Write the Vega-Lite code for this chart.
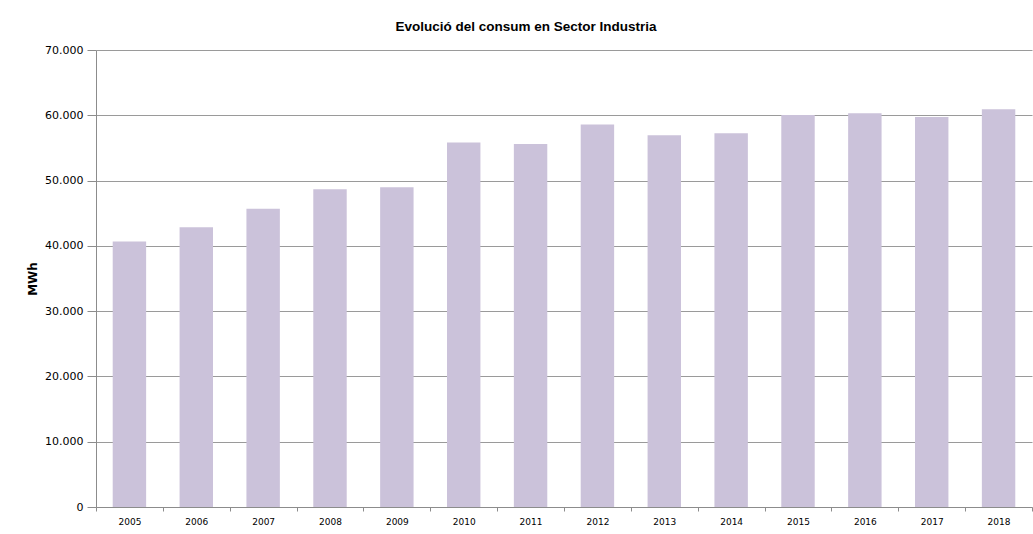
{
  "$schema": "https://vega.github.io/schema/vega-lite/v6.json",
  "autosize": {"type": "none"},
  "padding": {"left": 96, "top": 50, "right": 1, "bottom": 27},
  "width": 936,
  "height": 457,
  "background": "white",
  "config": {
    "locale": {"number": {"decimal": ",", "thousands": ".", "grouping": [3], "currency": ["", " €"]}},
    "view": {"stroke": null}
  },
  "title": {
    "text": "Evolució del consum en Sector Industria",
    "font": "Liberation Sans",
    "fontSize": 13.5,
    "fontWeight": "bold",
    "color": "#000000",
    "anchor": "middle",
    "frame": "group",
    "dx": -38,
    "offset": 11
  },
  "data": {
    "values": [
      {"year": "2005", "mwh": 40670},
      {"year": "2006", "mwh": 42860},
      {"year": "2007", "mwh": 45670},
      {"year": "2008", "mwh": 48680},
      {"year": "2009", "mwh": 48990},
      {"year": "2010", "mwh": 55820},
      {"year": "2011", "mwh": 55600},
      {"year": "2012", "mwh": 58580},
      {"year": "2013", "mwh": 56940},
      {"year": "2014", "mwh": 57240},
      {"year": "2015", "mwh": 60050},
      {"year": "2016", "mwh": 60300},
      {"year": "2017", "mwh": 59740},
      {"year": "2018", "mwh": 60920}
    ]
  },
  "mark": {"type": "bar", "color": "#cbc2da", "width": {"band": 0.5}},
  "encoding": {
    "x": {
      "field": "year",
      "type": "ordinal",
      "scale": {"paddingInner": 0, "paddingOuter": 0},
      "axis": {
        "title": null,
        "labelAngle": 0,
        "labelFont": "DejaVu Sans",
        "labelFontSize": 9,
        "labelColor": "#000000",
        "labelPadding": 6,
        "tickBand": "extent",
        "tickSize": 4,
        "tickColor": "#8c8c8c",
        "domainColor": "#8c8c8c",
        "grid": false
      }
    },
    "y": {
      "field": "mwh",
      "type": "quantitative",
      "scale": {"domain": [0, 70000], "nice": false},
      "axis": {
        "title": "MWh",
        "titleFont": "DejaVu Sans",
        "titleFontSize": 12,
        "titleFontWeight": "bold",
        "titleColor": "#000000",
        "titleX": -64,
        "titleBaseline": "middle",
        "values": [0, 10000, 20000, 30000, 40000, 50000, 60000, 70000],
        "format": ",d",
        "labelFont": "DejaVu Sans",
        "labelFontSize": 11,
        "labelColor": "#000000",
        "labelPadding": 4,
        "tickSize": 9,
        "tickColor": "#8c8c8c",
        "domainColor": "#8c8c8c",
        "grid": true,
        "gridColor": "#9a9a9a",
        "gridWidth": 1
      }
    }
  }
}
